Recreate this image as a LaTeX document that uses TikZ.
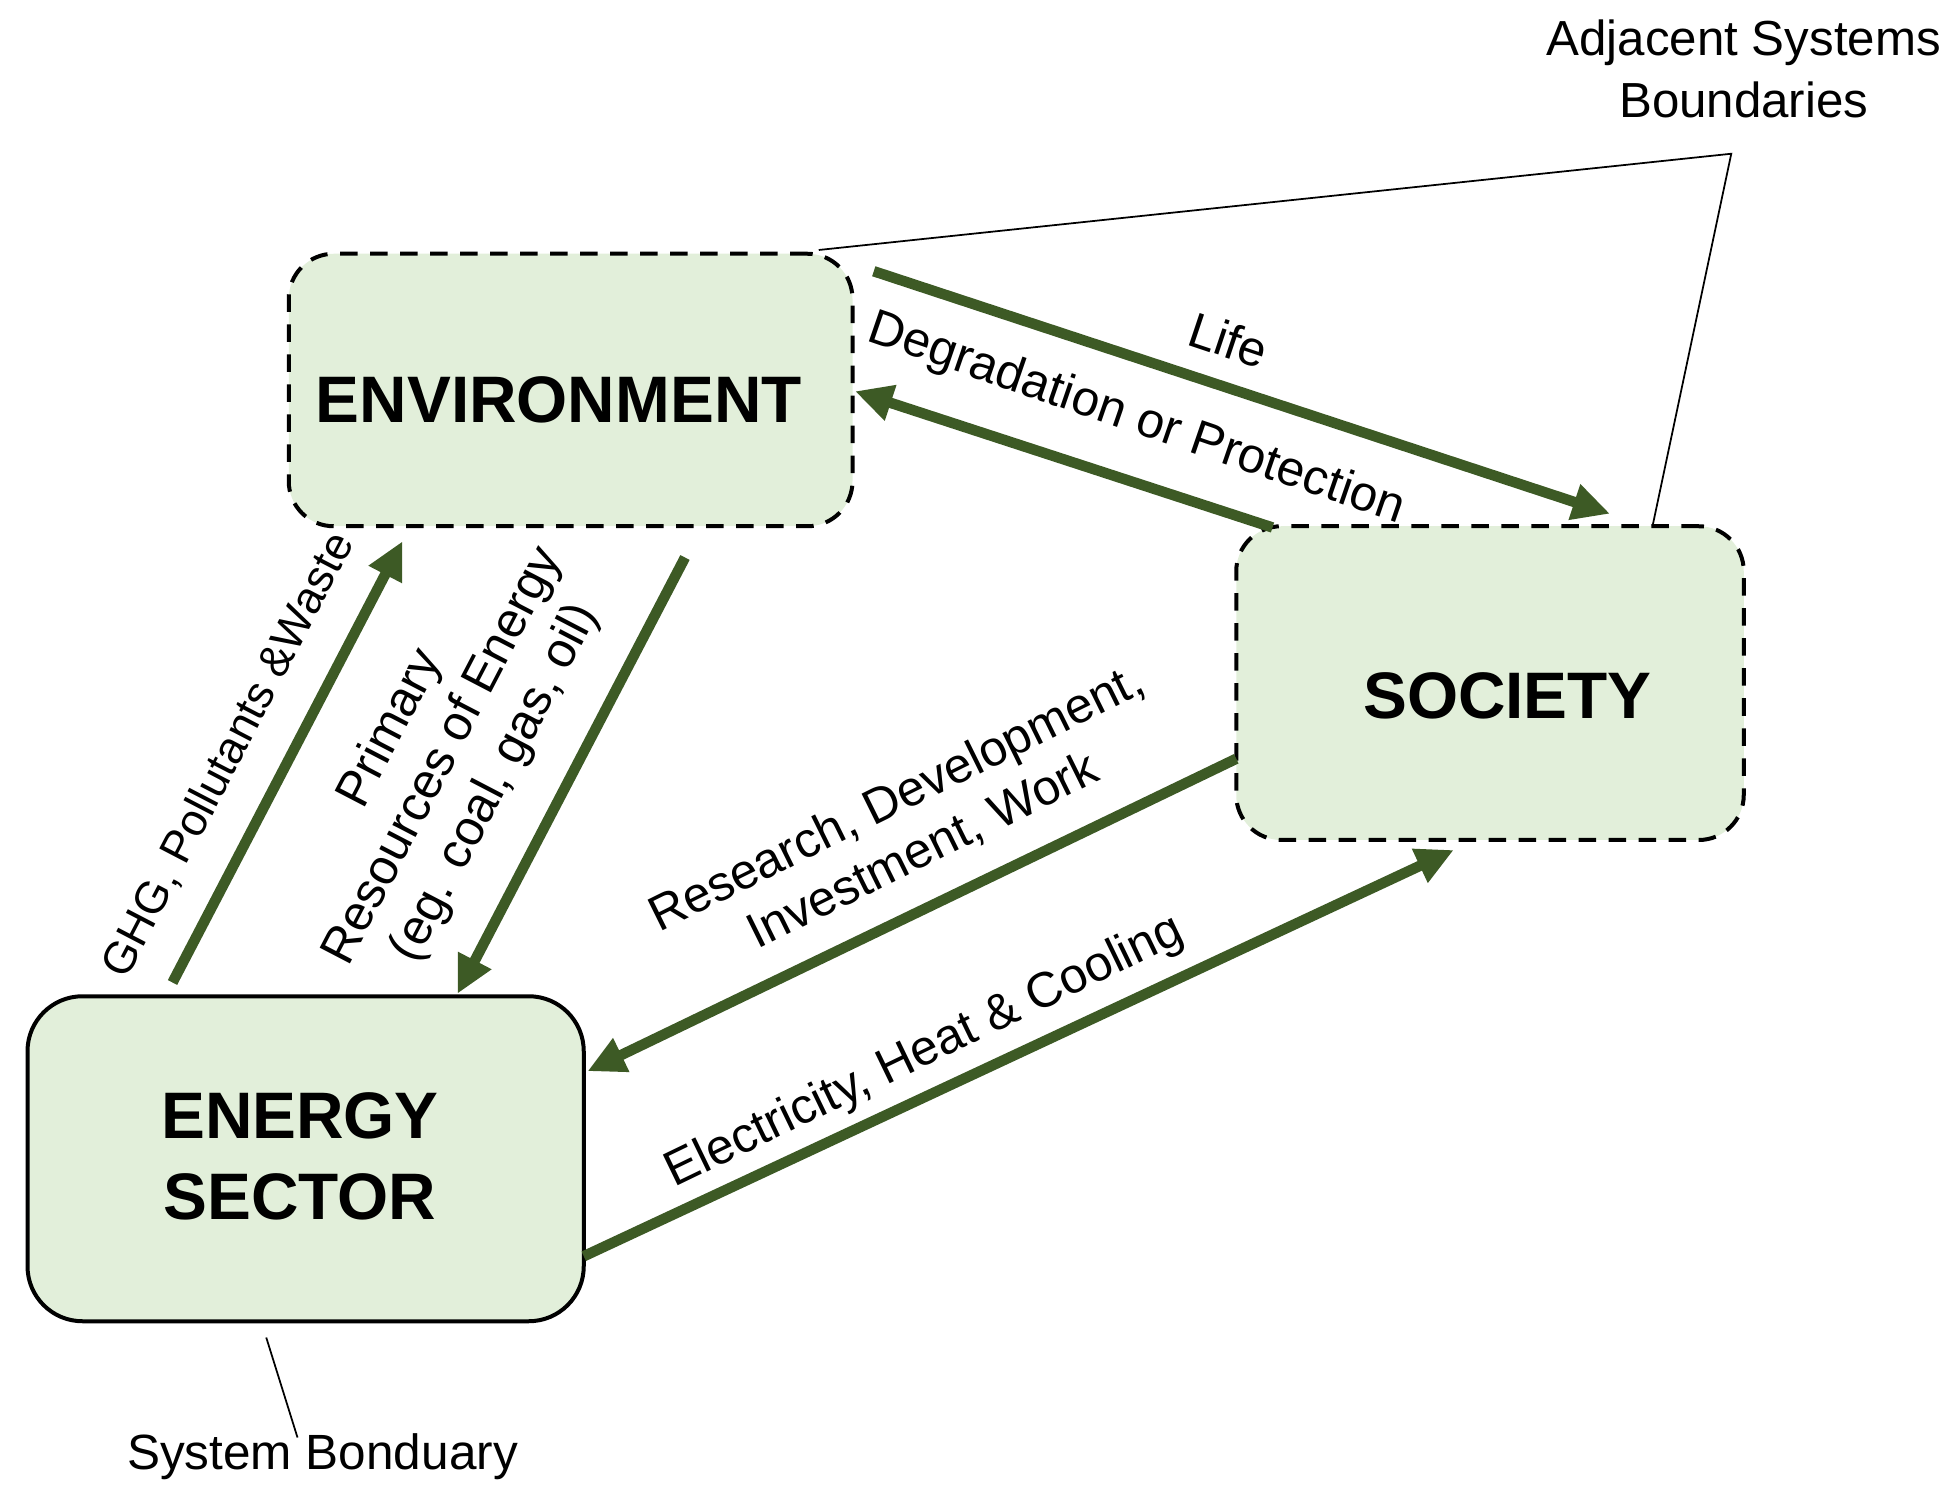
\documentclass[tikz,border=0pt]{standalone}
\usepackage{fontspec}
\setmainfont{Liberation Sans}
\usetikzlibrary{arrows.meta}
\definecolor{boxfill}{RGB}{226,239,218}
\definecolor{arrowgreen}{RGB}{61,90,37}
\begin{document}
\begin{tikzpicture}[x=0.5pt,y=-0.5pt,
  sysbox/.style={draw=black,fill=boxfill,line width=1.6pt,rounded corners=18pt,inner sep=0pt},
  dashbox/.style={sysbox,dash pattern=on 7pt off 5pt},
  boxtext/.style={font=\fontsize{26.3pt}{32.5pt}\selectfont\bfseries,align=center,inner sep=0pt},
  flowtext/.style={font=\fontsize{19.8pt}{23.5pt}\selectfont,align=center,inner sep=0pt},
  flow/.style={draw=arrowgreen,line width=4.2pt,-{Triangle[length=15pt,width=14pt]}},
  thin/.style={draw=black,line width=0.7pt}]
\useasboundingbox (0,0) rectangle (1568,1202);
% boxes
\node[dashbox,minimum width=225.5pt,minimum height=109pt] (env) at (456.5,312) {};
\node[dashbox,minimum width=203pt,minimum height=125.5pt] (soc) at (1192,546.5) {};
\node[sysbox,rounded corners=22pt,minimum width=222.5pt,minimum height=130pt] (ene) at (244.5,927) {};
\node[boxtext] (envt) at (447,320) {ENVIRONMENT};
\node[boxtext] (soct) at (1206,557) {SOCIETY};
\node[boxtext] (enet) at (240,925) {ENERGY\\SECTOR};
% arrow end points
\coordinate (lifeS) at (699,217);
\coordinate (lifeE) at (1288,411);
\coordinate (degS) at (1018,422);
\coordinate (degE) at (684,313);
\coordinate (ghgS) at (138,786);
\coordinate (ghgE) at (322,433);
\coordinate (priS) at (548,446);
\coordinate (priE) at (366,795);
\coordinate (resS) at (989,607);
\coordinate (resE) at (470,857);
\coordinate (eleS) at (467,1005);
\coordinate (eleE) at (1163,680);
% arrows
\draw[flow] (lifeS) -- (lifeE);
\draw[flow] (degS) -- (degE);
\draw[flow] (ghgS) -- (ghgE);
\draw[flow] (priS) -- (priE);
\draw[flow] (resS) -- (resE);
\draw[flow] (eleS) -- (eleE);
% flow labels
\node[flowtext,rotate=-18.5] (lifel) at (983,272) {Life};
\node[flowtext,rotate=-19] (degl) at (909,336) {Degradation or Protection};
\node[flowtext,font=\fontsize{18pt}{22pt}\selectfont,rotate=62.5] (ghgl) at (183,604) {GHG, Pollutants \&Waste};
\node[flowtext,rotate=62.5] (pril) at (355,605) {Primary\\Resources of Energy\\(eg. coal, gas, oil)};
\node[flowtext,rotate=26.3] (resl) at (728,660) {Research, Development,\\Investment, Work};
\node[flowtext,rotate=25.8] (elel) at (740,842) {Electricity, Heat \& Cooling};
% boundaries
\coordinate (adjA) at (655,200);
\coordinate (adjB) at (1385,123);
\coordinate (adjC) at (1322,421);
\draw[thin] (adjA) -- (adjB) -- (adjC);
\node[flowtext,font=\fontsize{19.7pt}{25pt}\selectfont] (adjl) at (1395,55) {Adjacent Systems\\Boundaries};
\coordinate (sysA) at (213,1070);
\coordinate (sysB) at (238,1150);
\draw[thin] (sysA) -- (sysB);
\node[flowtext] (sysl) at (258,1165) {System Bonduary};
\end{tikzpicture}
\end{document}
